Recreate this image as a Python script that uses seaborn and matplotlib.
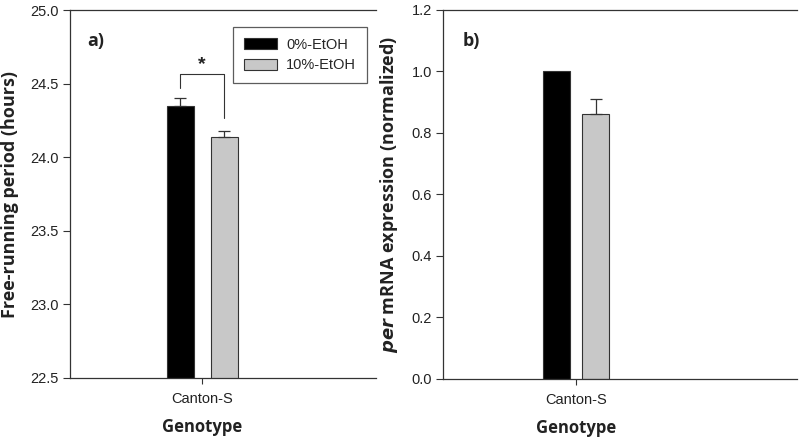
import matplotlib
matplotlib.use("Agg")
import matplotlib.pyplot as plt
import matplotlib.transforms as mtransforms
from matplotlib.patches import Patch
import seaborn as sns
import pandas as pd

# ---- data ----
genotypes = ["Canton-S"]
treatments = ["0%-EtOH", "10%-EtOH"]
period_mean = [24.35, 24.14]
period_sem = [0.05, 0.04]
per_mean = [1.00, 0.86]
per_sem = [0.0, 0.05]
period_ticks = [22.5, 23.0, 23.5, 24.0, 24.5, 25.0]
per_ticks = [0.0, 0.2, 0.4, 0.6, 0.8, 1.0, 1.2]

sns.set_style("white")
plt.rcParams['font.family'] = ['Liberation Sans', 'DejaVu Sans']

palette = {"0%-EtOH": "#000000", "10%-EtOH": "#c8c8c8"}
label_font = ['Open Sans', 'DejaVu Sans']

fig = plt.figure(figsize=(8, 4.4), dpi=100)
axA = fig.add_axes([0.0875, 0.141, 0.3825, 0.836])
axB = fig.add_axes([0.554, 0.139, 0.4425, 0.839])

def draw(ax, means, sems, ylim, yticks, gap, xlim, fmt):
    df = pd.DataFrame({"Genotype": genotypes * len(treatments),
                       "Treatment": treatments,
                       "value": means})
    sns.barplot(data=df, x="Genotype", y="value", hue="Treatment",
                palette=palette, width=0.8, gap=gap, errorbar=None,
                edgecolor="#333333", linewidth=0.8, ax=ax, legend=False)
    bars = [p for p in ax.patches]
    for p, m, s in zip(bars, means, sems):
        cx = p.get_x() + p.get_width() / 2
        if s > 0:
            ax.errorbar([cx], [m], yerr=[[0], [s]], fmt="none", ecolor="#333333",
                        elinewidth=0.9, capsize=4, capthick=0.9, zorder=1)
    ax.set_ylim(*ylim)
    ax.set_xlim(*xlim)
    ax.set_yticks(yticks)
    ax.set_yticklabels([fmt.format(t) for t in yticks], fontsize=10.5, color="#222222")
    ax.tick_params(axis="y", direction="out", length=5, width=0.8, color="#333333", left=True,
                   pad=3)
    ax.tick_params(axis="x", direction="out", length=4, width=0.8, color="#333333", bottom=True,
                   labelsize=10.5, labelcolor="#222222", pad=6)
    for side in ["left", "top", "bottom"]:
        ax.spines[side].set_visible(True)
        ax.spines[side].set_color("#333333")
        ax.spines[side].set_linewidth(0.9)
    ax.spines["right"].set_visible(False)
    ax.set_xlabel("")
    ax.set_ylabel("")
    trans = mtransforms.blended_transform_factory(ax.transData, ax.transAxes)
    ax.text(0, -0.108, "Genotype", transform=trans, ha="center", va="top",
            fontsize=12, fontweight="bold", family=label_font, color="#222222")
    return bars

barsA = draw(axA, period_mean, period_sem, (22.5, 25.0), period_ticks, 0.39,
             (-1.2, 1.58), "{:.1f}")
barsB = draw(axB, per_mean, per_sem, (0.0, 1.2), per_ticks, 0.31,
             (-1.364, 2.27), "{:.1f}")

axA.set_ylabel("Free-running period (hours)", fontsize=13, fontweight="bold",
               family=label_font, color="#222222", labelpad=8)
axB.set_ylabel(r"$\mathbfit{per}$ mRNA expression (normalized)", fontsize=13,
               fontweight="bold", family=label_font, color="#222222", labelpad=8)

axA.text(0.055, 0.915, "a)", transform=axA.transAxes, fontsize=13, fontweight="bold",
         family=label_font, va="center", color="#222222")
axB.text(0.055, 0.915, "b)", transform=axB.transAxes, fontsize=13, fontweight="bold",
         family=label_font, va="center", color="#222222")

# significance bracket
xa = barsA[0].get_x() + barsA[0].get_width() / 2
xb = barsA[1].get_x() + barsA[1].get_width() / 2
axA.plot([xa, xa, xb, xb], [24.47, 24.565, 24.565, 24.27], color="#333333", lw=0.8)
axA.text((xa + xb) / 2, 24.575, "*", ha="center", va="bottom", fontsize=14,
         fontweight="bold", color="#222222")

# legend
handles = [Patch(facecolor=palette[t], edgecolor="#333333", linewidth=0.8, label=t)
           for t in treatments]
leg = axA.legend(handles=handles, loc="upper right", bbox_to_anchor=(0.97, 0.955),
                 frameon=True, fancybox=False, fontsize=10.5, handlelength=2.3,
                 handleheight=0.8, borderpad=0.75, labelspacing=0.45, handletextpad=0.6,
                 borderaxespad=0)
leg.get_frame().set_edgecolor("#333333")
leg.get_frame().set_linewidth(0.9)

fig.savefig("out.png", dpi=100)
